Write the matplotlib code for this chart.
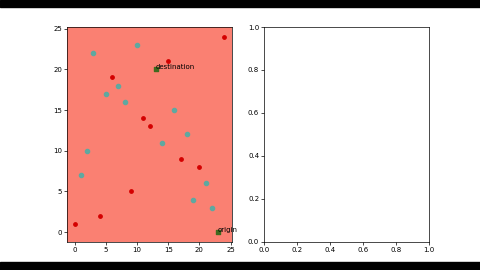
import matplotlib
matplotlib.use("Agg")
import matplotlib.pyplot as plt
from matplotlib.patches import Rectangle

# obstacles (red) and free points (teal)
red_x = [0, 4, 6, 9, 11, 12, 15, 17, 20, 24]
red_y = [1, 2, 19, 5, 14, 13, 21, 9, 8, 24]

teal_x = [1, 2, 3, 5, 7, 8, 10, 14, 16, 18, 19, 21, 22]
teal_y = [7, 10, 22, 17, 18, 16, 23, 11, 15, 12, 4, 6, 3]

origin = (23, 0)
destination = (13, 20)


def main() -> None:
    plt.rcParams["font.size"] = 5
    fig = plt.figure(figsize=(4.8, 2.7), dpi=100)

    # screenshot letterbox bars
    fig.patches.append(Rectangle((0, 0.974), 1, 0.026, transform=fig.transFigure,
                                 color="black", zorder=-1))
    fig.patches.append(Rectangle((0, 0), 1, 0.03, transform=fig.transFigure,
                                 color="black", zorder=-1))

    ax1 = fig.add_axes([0.140, 0.104, 0.343, 0.796])
    ax2 = fig.add_axes([0.550, 0.104, 0.344, 0.796])

    ax1.set_facecolor("salmon")
    ax1.scatter(teal_x, teal_y, s=9, color="#5fa8a0")
    ax1.scatter(red_x, red_y, s=6, color="#d40000")
    ax1.scatter([origin[0], destination[0]], [origin[1], destination[1]],
                s=7, marker="s", color="#3f6a1f")
    ax1.text(origin[0], origin[1], "origin", fontsize=5)
    ax1.text(destination[0], destination[1], "destination", fontsize=5)
    ax1.set_xticks([0, 5, 10, 15, 20, 25])

    for ax in (ax1, ax2):
        ax.tick_params(length=2, width=0.5, pad=1.5)
        for sp in ax.spines.values():
            sp.set_linewidth(0.5)

    fig.savefig("out.png", dpi=100)


if __name__ == "__main__":
    main()
